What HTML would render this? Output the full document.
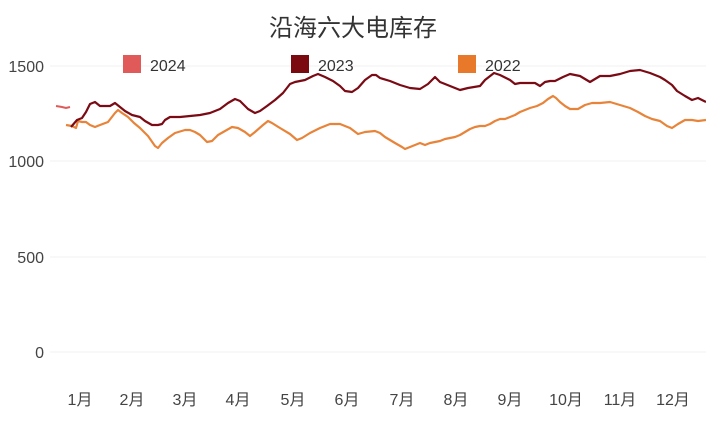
<!DOCTYPE html>
<html><head><meta charset="utf-8"><style>
body{margin:0;background:#fff;}
svg text{font-family:"Liberation Sans","Noto Sans CJK SC",sans-serif;}
</style></head><body>
<svg width="706" height="420" viewBox="0 0 706 420" xmlns="http://www.w3.org/2000/svg">
<rect width="706" height="420" fill="#fff"/>
<text x="353" y="36" font-size="24" text-anchor="middle" fill="#333">沿海六大电库存</text>
<g stroke="#f0f0f0" stroke-width="1">
<line x1="50" x2="706" y1="66" y2="66"/><line x1="50" x2="706" y1="161" y2="161"/>
<line x1="50" x2="706" y1="257" y2="257"/><line x1="50" x2="706" y1="352" y2="352"/>
</g>
<g font-size="16" fill="#444" text-anchor="end">
<text x="44" y="72">1500</text><text x="44" y="167">1000</text><text x="44" y="263">500</text><text x="44" y="358">0</text>
</g>
<g font-size="16" fill="#444" text-anchor="middle">
<text x="80" y="405">1月</text><text x="132" y="405">2月</text><text x="185" y="405">3月</text><text x="238" y="405">4月</text><text x="293" y="405">5月</text><text x="347" y="405">6月</text><text x="402" y="405">7月</text><text x="456" y="405">8月</text><text x="510" y="405">9月</text><text x="566" y="405">10月</text><text x="620" y="405">11月</text><text x="673" y="405">12月</text>
</g>
<rect x="123" y="55" width="18" height="18" fill="#e05a5a"/><text x="150" y="71" font-size="16" fill="#333">2024</text>
<rect x="291" y="55" width="18" height="18" fill="#7a0a10"/><text x="318" y="71" font-size="16" fill="#333">2023</text>
<rect x="458" y="55" width="18" height="18" fill="#e8782a"/><text x="485" y="71" font-size="16" fill="#333">2022</text>
<polyline fill="none" stroke="#e05a5a" stroke-width="2" points="56,106 62,107 66,108 70,107"/>
<polyline fill="none" stroke="#e8843a" stroke-width="2.2" stroke-linejoin="round" points="66,125 72,126 76,128 78,121 82,122 86,122 90,125 95,127 100,125 108,122 115,113 118,110 122,113 128,117 134,123 140,128 148,136 155,146 158,148 162,143 168,138 175,133 185,130 190,130 195,132 200,135 207,142 212,141 218,135 225,131 232,127 238,128 245,132 250,136 255,132 263,125 268,121 272,123 280,128 290,134 297,140 302,138 310,133 320,128 330,124 340,124 350,128 358,134 365,132 375,131 380,133 385,137 395,143 402,147 405,149 410,147 415,145 420,143 425,145 430,143 435,142 440,141 445,139 450,138 455,137 460,135 465,132 470,129 475,127 480,126 485,126 490,124 495,121 500,119 505,119 510,117 515,115 520,112 525,110 530,108 537,106 543,103 548,99 553,96 556,98 560,102 565,106 570,109 578,109 585,105 592,103 600,103 610,102 620,105 630,108 638,112 645,116 652,119 660,121 667,126 672,128 678,124 685,120 692,120 698,121 706,120"/>
<polyline fill="none" stroke="#7a0a14" stroke-width="2.2" stroke-linejoin="round" points="71,127 77,120 82,118 86,112 90,104 95,102 100,106 105,106 110,106 115,103 120,107 125,111 132,115 140,117 145,121 152,125 158,125 162,124 165,120 170,117 180,117 190,116 200,115 210,113 220,109 228,103 235,99 240,101 248,109 255,113 260,111 267,106 275,100 283,93 290,84 295,82 305,80 313,76 318,74 325,77 333,81 340,86 345,91 352,92 358,88 365,80 372,75 376,75 380,78 390,81 400,85 410,88 420,89 428,84 435,77 440,82 450,86 460,90 468,88 474,87 480,86 485,80 494,73 500,75 510,80 515,84 520,83 530,83 535,83 540,86 545,82 550,81 555,81 563,77 570,74 580,76 590,82 595,79 600,76 610,76 620,74 630,71 640,70 650,73 660,77 665,80 672,85 677,91 685,96 692,100 698,98 702,100 706,102"/>
</svg>
</body></html>
